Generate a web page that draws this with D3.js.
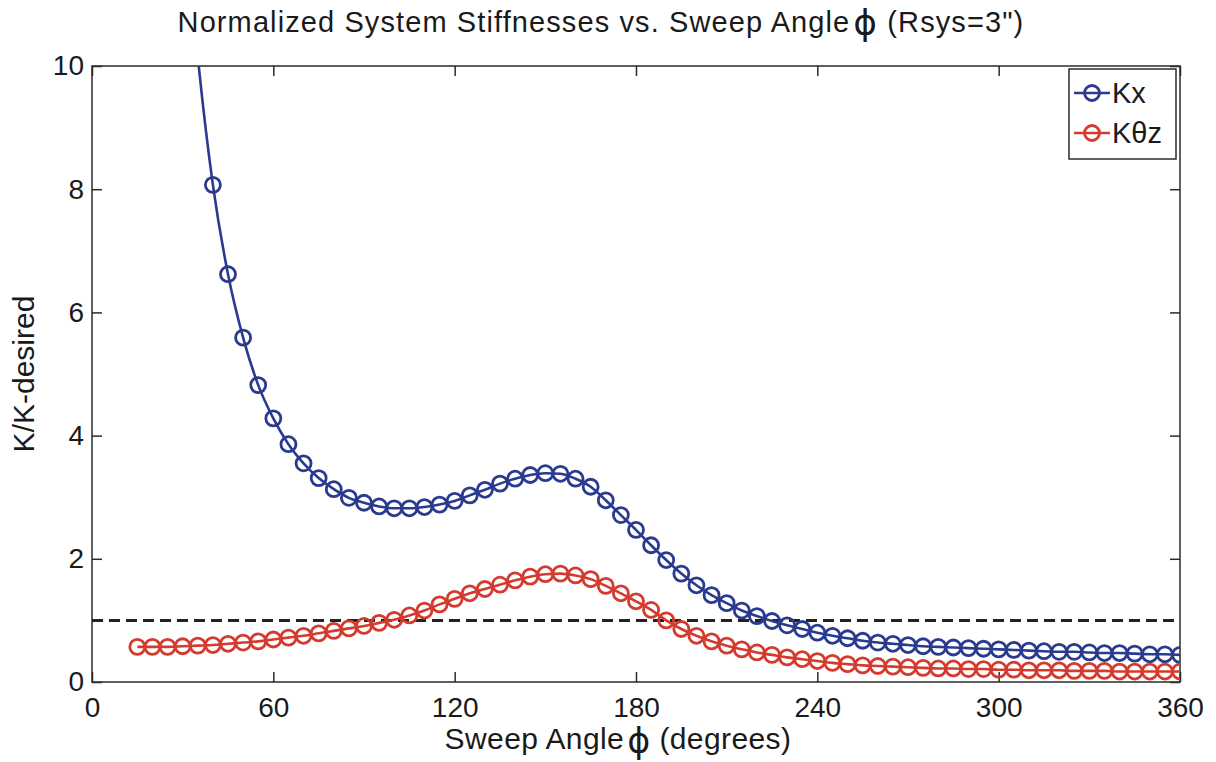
<!DOCTYPE html>
<html>
<head>
<meta charset="utf-8">
<script src="https://cdn.jsdelivr.net/npm/d3@7"></script>
<style>
    body { margin: 0; background: #fff; }
    text { font-family: "Liberation Sans", Arial, sans-serif; fill: #1a1a1a; }
</style>
</head>
<body>
<div id="chart"></div>
<script>
const WIDTH = 1216;
const HEIGHT = 762;
const MARGIN = { top: 66, right: 36, bottom: 80, left: 92 };
const BLUE = "#2a3a8f";
const RED = "#d43a2e";
const AXIS_COLOR = "#2b2b2b";

// sweep angle (degrees) and normalized stiffness values
const kxAngles = d3.range(30, 361, 5);
const kxValues = [12.9, 10.15, 8.07, 6.62, 5.59, 4.82, 4.28, 3.86, 3.55, 3.31, 3.13, 2.99,
    2.91, 2.85, 2.82, 2.82, 2.84, 2.88, 2.94, 3.03, 3.12, 3.22, 3.30, 3.36, 3.39, 3.38,
    3.30, 3.17, 2.95, 2.71, 2.47, 2.22, 1.98, 1.76, 1.57, 1.41, 1.28, 1.16, 1.07, 0.99,
    0.92, 0.86, 0.80, 0.75, 0.71, 0.67, 0.64, 0.62, 0.60, 0.58, 0.57, 0.56, 0.55, 0.54,
    0.53, 0.52, 0.51, 0.50, 0.49, 0.49, 0.48, 0.47, 0.47, 0.46, 0.45, 0.45, 0.44];
const ktzAngles = d3.range(15, 361, 5);
const ktzValues = [0.57, 0.57, 0.57, 0.58, 0.59, 0.60, 0.62, 0.64, 0.66, 0.69, 0.72, 0.75,
    0.79, 0.83, 0.87, 0.91, 0.96, 1.01, 1.08, 1.16, 1.26, 1.35, 1.44, 1.51, 1.58, 1.65,
    1.71, 1.75, 1.76, 1.73, 1.67, 1.56, 1.44, 1.31, 1.17, 1.00, 0.86, 0.75, 0.66, 0.59,
    0.53, 0.48, 0.44, 0.40, 0.37, 0.34, 0.31, 0.29, 0.27, 0.26, 0.25, 0.24, 0.23, 0.22,
    0.22, 0.21, 0.21, 0.20, 0.20, 0.19, 0.19, 0.19, 0.18, 0.18, 0.18, 0.17, 0.17, 0.17,
    0.17, 0.17];
const desiredAngles = [0, 360];
const desiredValues = [1, 1];

const xTicks = [0, 60, 120, 180, 240, 300, 360];
const yTicks = [0, 2, 4, 6, 8, 10];
const seriesNames = ["Kx", "K\u03b8z"];

const w = WIDTH - MARGIN.left - MARGIN.right;
const h = HEIGHT - MARGIN.top - MARGIN.bottom;

const svg = d3.select("#chart")
    .append("svg")
    .attr("width", WIDTH)
    .attr("height", HEIGHT);

const x = d3.scaleLinear().domain([0, 360]).range([0, w]);
const y = d3.scaleLinear().domain([0, 10]).range([h, 0]);

const g = svg.append("g")
    .attr("transform", "translate(" + MARGIN.left + "," + MARGIN.top + ")");

g.append("clipPath").attr("id", "plot-clip")
    .append("rect").attr("width", w).attr("height", h);

// axes, matlab style: ticks inside on all four sides
const TICK = 10;
function styleAxis(sel, showLabels) {
    sel.select(".domain").remove();
    sel.selectAll(".tick line").attr("stroke", AXIS_COLOR).attr("stroke-width", 1.5);
    sel.selectAll(".tick text")
        .style("font-size", "28px")
        .attr("fill", "#1a1a1a")
        .style("display", showLabels ? null : "none");
}

g.append("g").attr("transform", "translate(0," + h + ")")
    .call(d3.axisBottom(x).tickValues(xTicks).tickSizeInner(-TICK).tickSizeOuter(0).tickPadding(15))
    .call(s => styleAxis(s, true));
g.append("g")
    .call(d3.axisTop(x).tickValues(xTicks).tickSizeInner(-TICK).tickSizeOuter(0))
    .call(s => styleAxis(s, false));
g.append("g")
    .call(d3.axisLeft(y).tickValues(yTicks).tickSizeInner(-TICK).tickSizeOuter(0).tickPadding(8))
    .call(s => styleAxis(s, true));
g.append("g").attr("transform", "translate(" + w + ",0)")
    .call(d3.axisRight(y).tickValues(yTicks).tickSizeInner(-TICK).tickSizeOuter(0))
    .call(s => styleAxis(s, false));

g.append("rect")
    .attr("width", w).attr("height", h)
    .attr("fill", "none")
    .attr("stroke", AXIS_COLOR)
    .attr("stroke-width", 1.5);

const plot = g.append("g").attr("clip-path", "url(#plot-clip)");

const line = d3.line()
    .x(d => x(d[0]))
    .y(d => y(d[1]))
    .curve(d3.curveMonotoneX);

const series = [
    { name: seriesNames[0], color: BLUE, pts: d3.zip(kxAngles, kxValues) },
    { name: seriesNames[1], color: RED, pts: d3.zip(ktzAngles, ktzValues) }
];

// dashed desired level
plot.append("path")
    .datum(d3.zip(desiredAngles, desiredValues))
    .attr("d", d3.line().x(d => x(d[0])).y(d => y(d[1])))
    .attr("fill", "none")
    .attr("stroke", "#222")
    .attr("stroke-width", 3)
    .attr("stroke-dasharray", "11,6");

series.forEach(s => {
    plot.append("path")
        .datum(s.pts)
        .attr("d", line)
        .attr("fill", "none")
        .attr("stroke", s.color)
        .attr("stroke-width", 2.6);

    plot.selectAll(null)
        .data(s.pts.filter(d => d[1] <= 10))
        .enter()
        .append("circle")
        .attr("cx", d => x(d[0]))
        .attr("cy", d => y(d[1]))
        .attr("r", 7.5)
        .attr("fill", "none")
        .attr("stroke", s.color)
        .attr("stroke-width", 2.8);
});

// legend
const legend = g.append("g").attr("transform", "translate(" + (w - 111) + ",3)");
legend.append("rect")
    .attr("width", 107).attr("height", 90)
    .attr("fill", "#fff")
    .attr("stroke", AXIS_COLOR)
    .attr("stroke-width", 1.5);

series.forEach((s, i) => {
    const row = legend.append("g").attr("transform", "translate(0," + (24 + i * 40) + ")");
    row.append("line")
        .attr("x1", 5).attr("x2", 41)
        .attr("stroke", s.color).attr("stroke-width", 2.6);
    row.append("circle")
        .attr("cx", 23).attr("r", 7.5)
        .attr("fill", "none")
        .attr("stroke", s.color).attr("stroke-width", 2.8);
    row.append("text")
        .attr("x", 43).attr("dy", "0.36em")
        .style("font-size", "29px")
        .text(s.name);
});

// title and axis labels
svg.append("text")
    .attr("x", 601)
    .attr("y", 32)
    .attr("text-anchor", "middle")
    .style("font-size", "29px")
    .style("letter-spacing", "1.1px")
    .html('Normalized System Stiffnesses vs. Sweep Angle<tspan style="font-size:36px;font-family:\'DejaVu Sans\'" dx="3" dy="3">\u03d5</tspan><tspan dy="-3"> (Rsys=3")</tspan>');

svg.append("text")
    .attr("x", 618)
    .attr("y", 749)
    .attr("text-anchor", "middle")
    .style("font-size", "30px")
    .style("letter-spacing", "0.4px")
    .html('Sweep Angle<tspan style="font-size:35px;font-family:\'DejaVu Sans\'" dx="3" dy="4">\u03d5</tspan><tspan dy="-4"> (degrees)</tspan>');

svg.append("text")
    .attr("transform", "translate(34," + (MARGIN.top + h / 2) + ") rotate(-90)")
    .attr("text-anchor", "middle")
    .style("font-size", "30px")
    .text("K/K-desired");
</script>
</body>
</html>
